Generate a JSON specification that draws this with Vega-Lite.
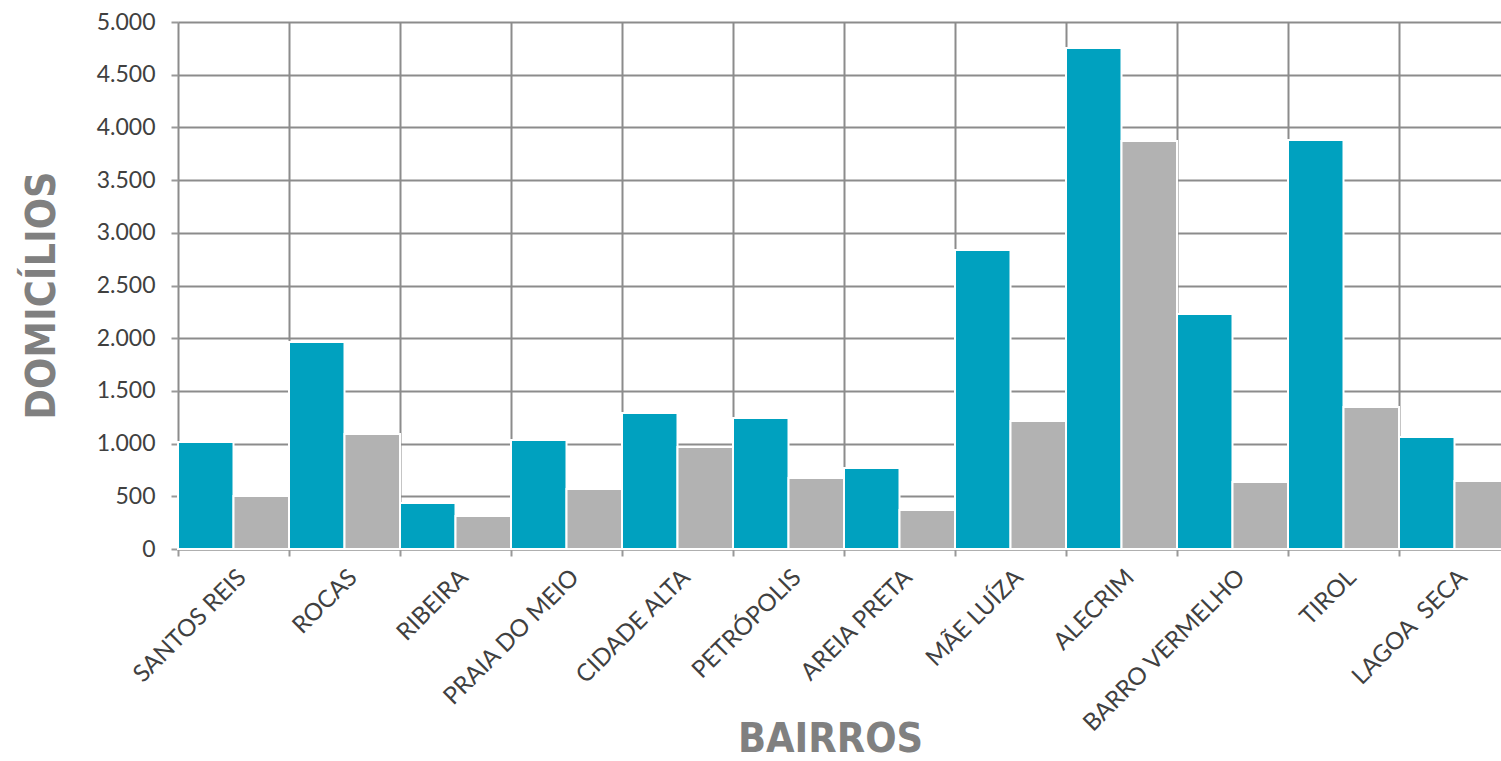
{
  "$schema": "https://vega.github.io/schema/vega-lite/v6.json",
  "autosize": {"type": "none"},
  "padding": {"left": 178, "top": 22, "right": 0, "bottom": 212},
  "width": 1323,
  "height": 527,
  "background": "white",
  "data": {
    "values": [
      {"bairro": "SANTOS REIS", "serie": "Série 1", "valor": 1015},
      {"bairro": "SANTOS REIS", "serie": "Série 2", "valor": 503},
      {"bairro": "ROCAS", "serie": "Série 1", "valor": 1964},
      {"bairro": "ROCAS", "serie": "Série 2", "valor": 1091},
      {"bairro": "RIBEIRA", "serie": "Série 1", "valor": 436},
      {"bairro": "RIBEIRA", "serie": "Série 2", "valor": 313},
      {"bairro": "PRAIA DO MEIO", "serie": "Série 1", "valor": 1034},
      {"bairro": "PRAIA DO MEIO", "serie": "Série 2", "valor": 569},
      {"bairro": "CIDADE ALTA", "serie": "Série 1", "valor": 1290},
      {"bairro": "CIDADE ALTA", "serie": "Série 2", "valor": 968},
      {"bairro": "PETRÓPOLIS", "serie": "Série 1", "valor": 1243},
      {"bairro": "PETRÓPOLIS", "serie": "Série 2", "valor": 674},
      {"bairro": "AREIA PRETA", "serie": "Série 1", "valor": 769},
      {"bairro": "AREIA PRETA", "serie": "Série 2", "valor": 370},
      {"bairro": "MÃE LUÍZA", "serie": "Série 1", "valor": 2837},
      {"bairro": "MÃE LUÍZA", "serie": "Série 2", "valor": 1214},
      {"bairro": "ALECRIM", "serie": "Série 1", "valor": 4753},
      {"bairro": "ALECRIM", "serie": "Série 2", "valor": 3871},
      {"bairro": "BARRO VERMELHO", "serie": "Série 1", "valor": 2230},
      {"bairro": "BARRO VERMELHO", "serie": "Série 2", "valor": 636},
      {"bairro": "TIROL", "serie": "Série 1", "valor": 3880},
      {"bairro": "TIROL", "serie": "Série 2", "valor": 1347},
      {"bairro": "LAGOA \u00a0SECA", "serie": "Série 1", "valor": 1063},
      {"bairro": "LAGOA \u00a0SECA", "serie": "Série 2", "valor": 645}
    ]
  },
  "mark": {"type": "bar", "stroke": "white", "strokeWidth": 2},
  "encoding": {
    "x": {
      "field": "bairro",
      "type": "nominal",
      "sort": null,
      "scale": {"range": [0, 1332], "paddingInner": 0, "paddingOuter": 0},
      "axis": {
        "title": "BAIRROS",
        "titleFont": "DejaVu Sans Condensed",
        "titleFontWeight": "bold",
        "titleFontSize": 41,
        "titleColor": "#808080",
        "titleX": 652,
        "titleY": 202,
        "titleBaseline": "alphabetic",
        "titleAlign": "center",
        "labelAngle": -45,
        "labelFont": "Lato",
        "labelFontSize": 24,
        "labelColor": "#404040",
        "labelPadding": 9,
        "labelLimit": 0,
        "tickBand": "extent",
        "tickSize": 7,
        "tickWidth": 2,
        "tickColor": "#999999",
        "domainColor": "#9a9a9a",
        "domainWidth": 2,
        "grid": true,
        "gridColor": "#8c8c8c",
        "gridWidth": 2
      }
    },
    "xOffset": {"field": "serie", "type": "nominal", "scale": {"paddingInner": 0, "paddingOuter": 0}},
    "y": {
      "field": "valor",
      "type": "quantitative",
      "scale": {"domain": [0, 5000], "nice": false},
      "axis": {
        "title": "DOMICÍLIOS",
        "titleFont": "DejaVu Sans Condensed",
        "titleFontWeight": "bold",
        "titleFontSize": 41,
        "titleColor": "#808080",
        "titleX": -124,
        "titleY": 273,
        "titleAngle": -90,
        "titleBaseline": "alphabetic",
        "titleAlign": "center",
        "values": [0, 500, 1000, 1500, 2000, 2500, 3000, 3500, 4000, 4500, 5000],
        "labelExpr": "replace(format(datum.value, ','), ',', '.')",
        "labelFont": "Lato",
        "labelFontSize": 23,
        "labelColor": "#404040",
        "labelPadding": 16,
        "tickSize": 7,
        "tickWidth": 2,
        "tickColor": "#999999",
        "domain": false,
        "grid": true,
        "gridColor": "#8c8c8c",
        "gridWidth": 2
      }
    },
    "color": {
      "field": "serie",
      "type": "nominal",
      "scale": {"domain": ["Série 1", "Série 2"], "range": ["#00A1BF", "#B2B2B2"]},
      "legend": null
    }
  },
  "config": {"view": {"stroke": null}}
}
